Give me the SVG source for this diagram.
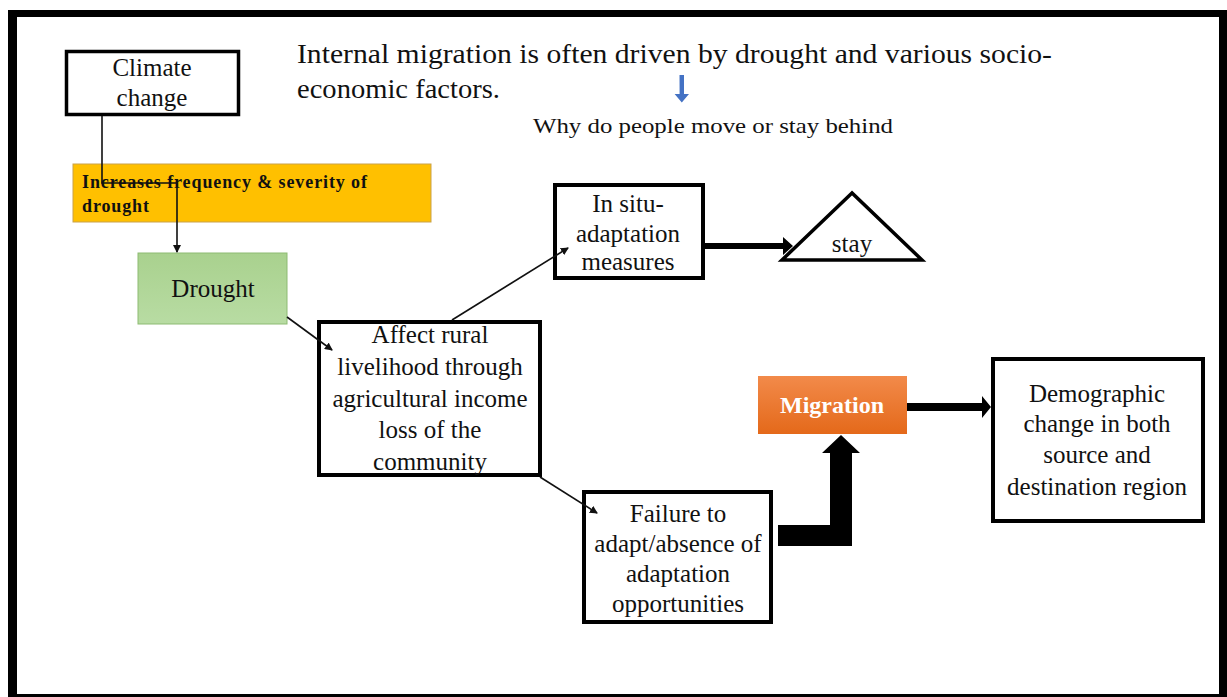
<svg xmlns="http://www.w3.org/2000/svg" width="1227" height="697" viewBox="0 0 1227 697" font-family="'Liberation Serif', 'Times New Roman', serif">
<style>
text{font-family:'Liberation Serif','Times New Roman',serif;fill:#111}
.box{fill:#fff;stroke:#000;stroke-width:4}
.t25{font-size:25px;text-anchor:middle}
.thin{fill:none;stroke:#111;stroke-width:1.6}
</style>
<defs>
<marker id="ah" markerWidth="8" markerHeight="8" refX="7" refY="4" orient="auto" markerUnits="userSpaceOnUse"><path d="M0,0 L8,4 L0,8 z" fill="#111"/></marker>
<linearGradient id="gGreen" x1="0" y1="0" x2="0" y2="1"><stop offset="0" stop-color="#A9D18E"/><stop offset="1" stop-color="#B8DCA3"/></linearGradient>
<linearGradient id="gOrange" x1="0" y1="0" x2="0" y2="1"><stop offset="0" stop-color="#F28A4A"/><stop offset="1" stop-color="#E4691A"/></linearGradient>
</defs>
<rect x="0" y="0" width="1227" height="697" fill="#fff"/>
<rect x="8" y="10" width="1219" height="687" fill="#000"/>
<rect x="17" y="17" width="1202" height="677" fill="#fff"/>

<g id="title">
<text x="297" y="63" font-size="28" textLength="755" lengthAdjust="spacingAndGlyphs">Internal migration is often driven by drought and various socio-</text>
<text x="297" y="98" font-size="28" textLength="203" lengthAdjust="spacingAndGlyphs">economic factors.</text>
<path d="M679.5,75 h4.5 v19 h5 l-7.2,8.5 l-7.2,-8.5 h5 z" fill="#4472C4"/>
<text x="533" y="133" font-size="21" textLength="360" lengthAdjust="spacingAndGlyphs">Why do people move or stay behind</text>
</g>

<g id="climate">
<rect x="66.5" y="51.5" width="172" height="63" fill="#fff" stroke="#000" stroke-width="3.5"/>
<text class="t25" x="152" y="76" font-size="24">Climate</text>
<text class="t25" x="152" y="106" font-size="24">change</text>
</g>

<g id="increases">
<rect x="73" y="164" width="358" height="58" fill="#FFC000" stroke="#C9A24A" stroke-width="1"/>
<text x="82" y="188" font-size="18" font-weight="bold" textLength="285" lengthAdjust="spacing">Increases frequency &amp; severity of</text>
<text x="82" y="212" font-size="18" font-weight="bold" textLength="67" lengthAdjust="spacing">drought</text>
</g>

<g id="drought">
<rect x="138" y="253" width="149" height="71" fill="url(#gGreen)" stroke="#8DBB72" stroke-width="1"/>
<text class="t25" x="213" y="297">Drought</text>
</g>

<g id="affect">
<rect class="box" x="319" y="322" width="221" height="153"/>
<text class="t25" x="430" y="343">Affect rural</text>
<text class="t25" x="430" y="375">livelihood through</text>
<text class="t25" x="430" y="407">agricultural income</text>
<text class="t25" x="430" y="438">loss of the</text>
<text class="t25" x="430" y="470">community</text>
</g>

<g id="insitu">
<rect class="box" x="555" y="185" width="148" height="93"/>
<text class="t25" x="628" y="212">In situ-</text>
<text class="t25" x="628" y="242">adaptation</text>
<text class="t25" x="628" y="270">measures</text>
</g>

<g id="stay">
<polygon points="852,193 782,260 922,260" fill="#fff" stroke="#000" stroke-width="3.5"/>
<text class="t25" x="852" y="252" font-size="24">stay</text>
</g>

<g id="migration">
<rect x="758" y="376" width="149" height="58" fill="url(#gOrange)"/>
<text x="832" y="413" font-size="24" font-weight="bold" text-anchor="middle" style="fill:#fff">Migration</text>
</g>

<g id="demographic">
<rect class="box" x="993" y="359" width="210" height="162"/>
<text class="t25" x="1097" y="402">Demographic</text>
<text class="t25" x="1097" y="432">change in both</text>
<text class="t25" x="1097" y="463">source and</text>
<text class="t25" x="1097" y="495">destination region</text>
</g>

<g id="failure">
<rect class="box" x="584" y="492" width="187" height="130"/>
<text class="t25" x="678" y="522">Failure to</text>
<text class="t25" x="678" y="552">adapt/absence of</text>
<text class="t25" x="678" y="582">adaptation</text>
<text class="t25" x="678" y="612">opportunities</text>
</g>

<g id="connectors">
<polyline class="thin" points="102,116 102,183 177,183 177,252" marker-end="url(#ah)"/>
<line class="thin" x1="287" y1="317" x2="332" y2="350" marker-end="url(#ah)"/>
<line class="thin" x1="452" y1="320" x2="568" y2="248" marker-end="url(#ah)"/>
<line class="thin" x1="540" y1="477" x2="597" y2="513" marker-end="url(#ah)"/>
<path d="M705,243 h78 v-6 l10,9 l-10,9 v-6 h-78 z" fill="#000"/>
<path d="M907,403 h75 v-7 l9,11 l-9,11 v-7 h-75 z" fill="#000"/>
<path d="M778,525 H830 V453 H822 L841,435 L860,453 H852 V546 H778 Z" fill="#000"/>
</g>
</svg>
